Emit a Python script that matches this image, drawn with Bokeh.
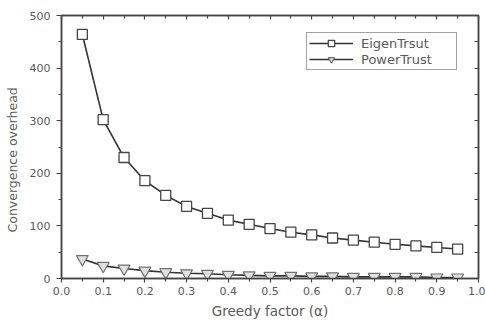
from bokeh.plotting import figure
from bokeh.models import (LinearAxis, FixedTicker, Legend, LegendItem, Range1d,
                          PrintfTickFormatter, Title)
from bokeh.embed import file_html
from bokeh.resources import INLINE

alpha = [0.05, 0.10, 0.15, 0.20, 0.25, 0.30, 0.35, 0.40, 0.45, 0.50,
         0.55, 0.60, 0.65, 0.70, 0.75, 0.80, 0.85, 0.90, 0.95]
eigentrust = [464, 302, 230, 186, 158, 137, 124, 111, 103, 95,
              88, 83, 77, 73, 69, 65, 62, 59, 56]
powertrust = [37, 24, 19, 15, 12, 10, 9, 7, 6, 5,
              5, 4, 4, 3, 3, 3, 3, 2, 2]
x_ticks = [0.0, 0.1, 0.2, 0.3, 0.4, 0.5, 0.6, 0.7, 0.8, 0.9, 1.0]
y_ticks = [0, 100, 200, 300, 400, 500]
x_title = "Greedy factor (\u03b1)"
y_title = "Convergence overhead"

FG = "#454545"
TXT = "#5a5a5a"
FONT = "DejaVu Sans"

p = figure(width=485, height=321, output_backend="svg", toolbar_location=None,
           x_range=Range1d(0, 1.0), y_range=Range1d(0, 500),
           x_axis_location=None, y_axis_location=None,
           min_border_left=61, min_border_right=7, min_border_top=15, min_border_bottom=42)
p.grid.visible = False
p.outline_line_color = FG
p.outline_line_width = 1.5
p.background_fill_color = "white"
p.border_fill_color = "white"

def style(ax, labels=True):
    ax.axis_line_color = FG
    ax.axis_line_width = 1.5
    ax.major_tick_line_color = FG
    ax.minor_tick_line_color = FG
    ax.major_tick_line_width = 1.2
    ax.minor_tick_line_width = 1.2
    ax.major_label_text_font = FONT
    ax.major_label_text_font_size = "11px"
    ax.major_label_text_color = TXT
    ax.axis_label_text_font = FONT
    ax.axis_label_text_font_style = "normal"
    ax.axis_label_text_color = TXT
    ax.axis_label_text_font_size = "13.5px"
    if not labels:
        ax.major_label_text_font_size = "0px"
        ax.major_label_text_alpha = 0

bottom = LinearAxis(ticker=FixedTicker(ticks=x_ticks, minor_ticks=[t + 0.05 for t in x_ticks[:-1]]),
                    formatter=PrintfTickFormatter(format="%.1f"), axis_label=x_title)
style(bottom)
bottom.major_tick_out = 4
bottom.major_tick_in = 0
bottom.minor_tick_out = 3
bottom.minor_tick_in = 0
bottom.major_label_standoff = 4
bottom.axis_label_standoff = 5
p.add_layout(bottom, "below")

left = LinearAxis(ticker=FixedTicker(ticks=y_ticks, minor_ticks=[t + 50 for t in y_ticks[:-1]]))
style(left)
left.major_tick_out = 5
left.major_tick_in = 0
left.minor_tick_out = 3
left.minor_tick_in = 0
left.major_label_standoff = 6
p.add_layout(left, "left")

top = LinearAxis(ticker=FixedTicker(ticks=x_ticks, minor_ticks=[t + 0.05 for t in x_ticks[:-1]]))
style(top, labels=False)
top.major_tick_out = 0
top.major_tick_in = 4
top.minor_tick_out = 0
top.minor_tick_in = 3
top.major_label_standoff = 0
p.add_layout(top, "above")

right = LinearAxis(ticker=FixedTicker(ticks=y_ticks, minor_ticks=[t + 50 for t in y_ticks[:-1]]))
style(right, labels=False)
right.major_tick_out = 0
right.major_tick_in = 4
right.minor_tick_out = 0
right.minor_tick_in = 4
right.major_label_standoff = 0
p.add_layout(right, "right")

ytitle = Title(text=y_title, align="left", vertical_align="top", offset=46, standoff=9,
               text_font=FONT, text_font_size="12.5px", text_font_style="normal",
               text_color=TXT)
p.add_layout(ytitle, "left")

l1 = p.line(alpha, eigentrust, line_color="#333333", line_width=1.6)
m1 = p.scatter(alpha, eigentrust, marker="square", size=10, fill_color="white",
               line_color=FG, line_width=1.3)
l2 = p.line(alpha, powertrust, line_color="#333333", line_width=1.6)
m2 = p.scatter(alpha, powertrust, marker="inverted_triangle", size=12, fill_color="#e0e0e0",
               line_color="#707070", line_width=1.2)

legend = Legend(items=[LegendItem(label="EigenTrsut", renderers=[l1, m1]),
                       LegendItem(label="PowerTrust", renderers=[l2, m2])],
                location=(245, 208))
legend.border_line_color = FG
legend.border_line_width = 1.2
legend.label_text_font = FONT
legend.label_text_font_size = "13px"
legend.label_text_color = TXT
legend.glyph_width = 44
legend.glyph_height = 16
legend.label_height = 16
legend.label_width = 93
legend.label_standoff = 8
legend.spacing = 0
legend.padding = 2
legend.margin = 0
legend.background_fill_alpha = 1
p.add_layout(legend, "center")

open("out.html", "w").write(file_html(p, INLINE))
